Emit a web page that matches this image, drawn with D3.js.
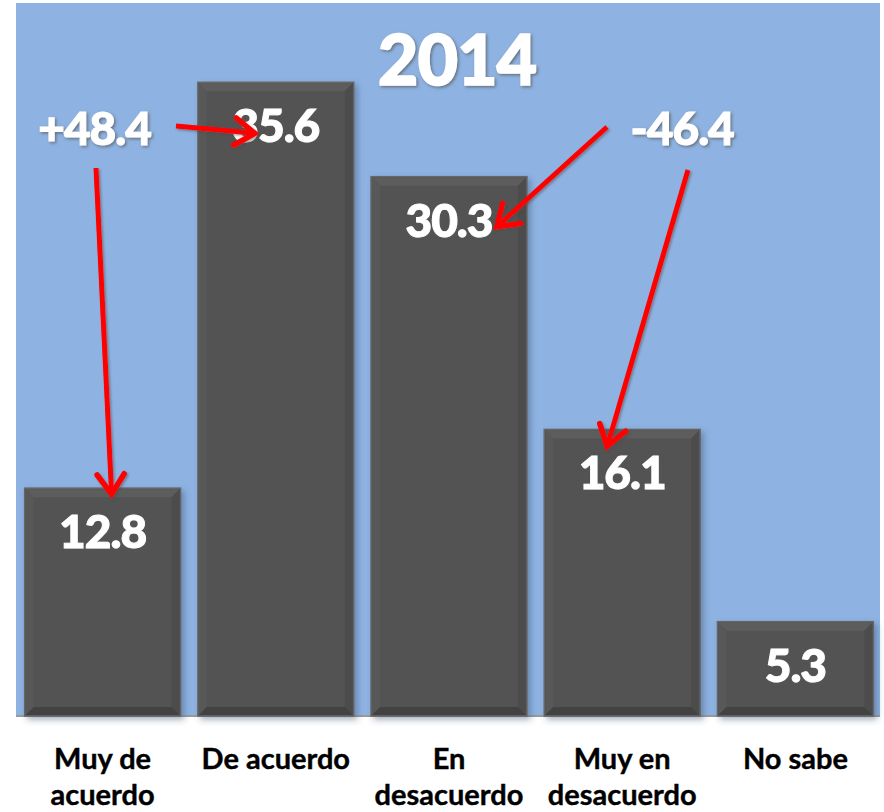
<!DOCTYPE html>
<html>
<head>
<meta charset="utf-8">
<script src="https://cdn.jsdelivr.net/npm/d3@7"></script>
<style>
  body { margin: 0; background: #fff; }
  svg { display: block; }
</style>
</head>
<body>
<div id="vis"></div>
<script>
// values
const categories = ['Muy de|acuerdo', 'De acuerdo', 'En|desacuerdo', 'Muy en|desacuerdo', 'No sabe']
const values = [12.8, 35.6, 30.3, 16.1, 5.3]
const title = '2014'
const sumLabels = ['+48.4', '-46.4']

const W = 884, H = 812
const plot = {left: 16, top: 3, right: 880, bottom: 716}

const svg = d3.select('#vis').append('svg')
    .attr('width', W)
    .attr('height', H)

const defs = svg.append('defs')

// soft grey glow under white text
let f = defs.append('filter').attr('id', 'txtShadow')
    .attr('x', '-20%').attr('y', '-20%').attr('width', '140%').attr('height', '140%')
f.append('feDropShadow').attr('dx', 1.5).attr('dy', 1.5).attr('stdDeviation', 1.5)
    .attr('flood-color', '#555').attr('flood-opacity', 0.7)

let f2 = defs.append('filter').attr('id', 'barShadow')
    .attr('x', '-10%').attr('y', '-10%').attr('width', '130%').attr('height', '130%')
f2.append('feDropShadow').attr('dx', 3).attr('dy', 3).attr('stdDeviation', 3)
    .attr('flood-color', '#3a4e6e').attr('flood-opacity', 0.45)

let f3 = defs.append('filter').attr('id', 'arrowShadow')
f3.append('feDropShadow').attr('dx', 1.5).attr('dy', 1.5).attr('stdDeviation', 1)
    .attr('flood-color', '#444').attr('flood-opacity', 0.5)

// plot area
svg.append('rect')
    .attr('x', plot.left).attr('y', plot.top)
    .attr('width', plot.right - plot.left).attr('height', plot.bottom - plot.top)
    .attr('fill', '#8EB3E2')

const x = d3.scaleBand()
    .domain(categories)
    .range([plot.left, 882])
    .paddingInner(0.1)
    .paddingOuter(0.05)

const y = d3.scaleLinear()
    .domain([0, 40])
    .range([plot.bottom, plot.top + 1])

// baseline
svg.append('line')
    .attr('x1', plot.left).attr('x2', plot.right)
    .attr('y1', y(0)).attr('y2', y(0))
    .attr('stroke', '#9a9a9a').attr('stroke-width', 2)

// bars with a bevel
const bev = 9
const bars = svg.selectAll('.bar')
    .data(values)
    .enter()
    .append('g')
    .attr('class', 'bar')
    .attr('transform', (d, i) => `translate(${x(categories[i])},${y(d)})`)

bars.append('rect')
    .attr('width', x.bandwidth())
    .attr('height', d => y(0) - y(d))
    .attr('fill', '#535353')
    .attr('stroke', '#666')
    .attr('stroke-width', 1.5)
    .attr('filter', 'url(#barShadow)')

const bw = x.bandwidth()
bars.append('path')   // top bevel
    .attr('d', d => `M1,1 L${bw - 1},1 L${bw - bev},${bev} L${bev},${bev} Z`)
    .attr('fill', '#5d5d5d')
bars.append('path')   // left bevel
    .attr('d', d => `M1,1 L${bev},${bev} L${bev},${y(0) - y(d) - bev} L1,${y(0) - y(d) - 1} Z`)
    .attr('fill', '#585858')
bars.append('path')   // right bevel
    .attr('d', d => `M${bw - 1},1 L${bw - bev},${bev} L${bw - bev},${y(0) - y(d) - bev} L${bw - 1},${y(0) - y(d) - 1} Z`)
    .attr('fill', '#4c4c4c')
bars.append('path')   // bottom bevel
    .attr('d', d => `M1,${y(0) - y(d) - 1} L${bev},${y(0) - y(d) - bev} L${bw - bev},${y(0) - y(d) - bev} L${bw - 1},${y(0) - y(d) - 1} Z`)
    .attr('fill', '#424242')

const bigFont = "Lato, 'Open Sans', sans-serif"

// value labels inside bars
svg.selectAll('.val')
    .data(values)
    .enter()
    .append('text')
    .attr('class', 'val')
    .attr('x', (d, i) => x(categories[i]) + bw / 2)
    .attr('y', d => y(d) + 60)
    .attr('text-anchor', 'middle')
    .attr('font-family', bigFont)
    .attr('font-weight', 900)
    .attr('font-size', 46)
    .attr('letter-spacing', -1)
    .attr('fill', '#fff')
    .attr('stroke', '#fff')
    .attr('stroke-width', 1)
    .attr('filter', 'url(#txtShadow)')
    .text(d => d.toFixed(1))

// title
svg.append('text')
    .attr('x', 457)
    .attr('y', 85)
    .attr('text-anchor', 'middle')
    .attr('font-family', bigFont)
    .attr('font-weight', 900)
    .attr('font-size', 70)
    .attr('letter-spacing', -1)
    .attr('fill', '#fff')
    .attr('stroke', '#fff')
    .attr('stroke-width', 1.5)
    .attr('filter', 'url(#txtShadow)')
    .text(title)

// summary labels
const cx = i => x(categories[i]) + bw / 2
const sumPos = [[cx(0) - 8, 145], [cx(3) + 60, 145]]
svg.selectAll('.sum')
    .data(sumLabels)
    .enter()
    .append('text')
    .attr('class', 'sum')
    .attr('x', (d, i) => sumPos[i][0])
    .attr('y', (d, i) => sumPos[i][1])
    .attr('text-anchor', 'middle')
    .attr('font-family', bigFont)
    .attr('font-weight', 900)
    .attr('font-size', 46)
    .attr('letter-spacing', -1)
    .attr('fill', '#fff')
    .attr('stroke', '#fff')
    .attr('stroke-width', 1)
    .attr('filter', 'url(#txtShadow)')
    .text(d => d)

// red arrows: [from, to]
const arrows = [
    [[176, 126], [cx(1) - 21, y(values[1]) + 51]],
    [[96, 168], [cx(0) + 9, y(values[0]) + 6]],
    [[607, 127], [cx(2) + 48, y(values[2]) + 50]],
    [[688, 170], [cx(3) - 15, y(values[3]) + 17]]
]

const ag = svg.append('g').attr('filter', 'url(#arrowShadow)')
arrows.forEach(([a, b]) => {
    const ang = Math.atan2(b[1] - a[1], b[0] - a[0])
    const L = 24, spread = 0.6
    const w1 = [b[0] - L * Math.cos(ang - spread), b[1] - L * Math.sin(ang - spread)]
    const w2 = [b[0] - L * Math.cos(ang + spread), b[1] - L * Math.sin(ang + spread)]
    ag.append('line')
        .attr('x1', a[0]).attr('y1', a[1])
        .attr('x2', b[0]).attr('y2', b[1])
        .attr('stroke', '#ff0000').attr('stroke-width', 5)
    ag.append('path')
        .attr('d', d3.line()([w1, b, w2]))
        .attr('fill', 'none')
        .attr('stroke', '#ff0000').attr('stroke-width', 5.5)
        .attr('stroke-linejoin', 'miter')
        .attr('stroke-linecap', 'round')
})

// category labels
const cats = svg.selectAll('.cat')
    .data(categories)
    .enter()
    .append('text')
    .attr('class', 'cat')
    .attr('x', d => x(d) + bw / 2)
    .attr('y', 769)
    .attr('text-anchor', 'middle')
    .attr('font-family', "Lato, 'Open Sans', sans-serif")
    .attr('font-weight', 700)
    .attr('font-size', 29)
    .attr('fill', '#000')
    .attr('stroke', '#000')
    .attr('stroke-width', 0.4)

cats.selectAll('tspan')
    .data(d => d.split('|'))
    .enter()
    .append('tspan')
    .attr('x', function () { return d3.select(this.parentNode).attr('x') })
    .attr('dy', (d, i) => i === 0 ? 0 : 36)
    .text(d => d)
</script>
</body>
</html>
